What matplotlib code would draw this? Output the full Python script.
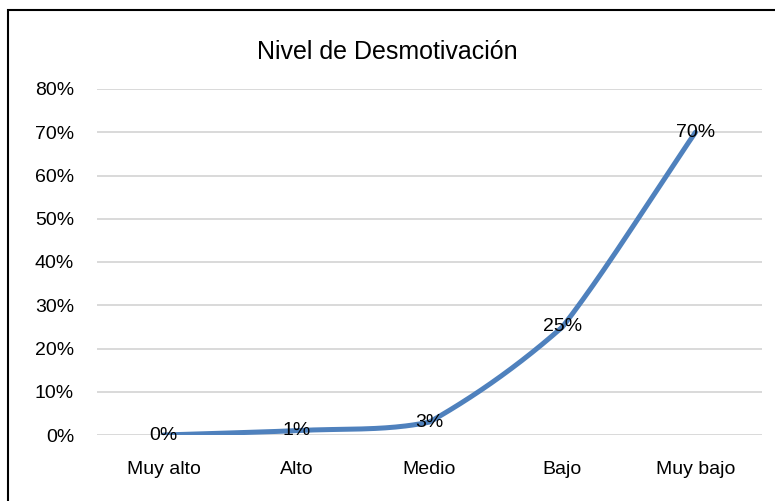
import numpy as np
import matplotlib.pyplot as plt
from matplotlib.patches import Rectangle

plt.rcParams['font.family'] = ['Liberation Sans', 'DejaVu Sans']

categorias = ['Muy alto', 'Alto', 'Medio', 'Bajo', 'Muy bajo']
porcentajes = [0.00, 0.01, 0.03, 0.25, 0.70]
etiquetas = ['0%', '1%', '3%', '25%', '70%']
ticks_y = [0.0, 0.1, 0.2, 0.3, 0.4, 0.5, 0.6, 0.7, 0.8]


def suavizar(y, lam=0.45, n=40):
    # linea suavizada: tramos cubicos de Hermite que pasan por cada punto
    y = np.asarray(y, float)
    cuerdas = np.diff(y)
    tang = np.empty_like(y)
    tang[0], tang[-1] = cuerdas[0], cuerdas[-1]
    tang[1:-1] = (y[2:] - y[:-2]) / 2
    t = np.linspace(0, 1, n)
    h00 = 2 * t ** 3 - 3 * t ** 2 + 1
    h10 = t ** 3 - 2 * t ** 2 + t
    h01 = -2 * t ** 3 + 3 * t ** 2
    h11 = t ** 3 - t ** 2
    xs, ys = [], []
    for i, c in enumerate(cuerdas):
        m0 = c + lam * (tang[i] - c)
        m1 = c + lam * (tang[i + 1] - c)
        xs.extend(i + t)
        ys.extend(h00 * y[i] + h10 * m0 + h01 * y[i + 1] + h11 * m1)
    return np.array(xs), np.array(ys)


fig = plt.figure(figsize=(7.75, 5.01), dpi=100)
ax = fig.add_axes([97 / 775, 1 - 435 / 501, 665 / 775, 346 / 501])

x = np.arange(len(categorias))
xs, ys = suavizar(porcentajes)
ax.plot(xs, ys, color='#4F81BD', linewidth=3.6, solid_capstyle='round', zorder=3)

for xi, yi, txt in zip(x, porcentajes, etiquetas):
    ax.text(xi, yi, txt, ha='center', va='center', fontsize=14, color='black', zorder=4)

ax.set_xlim(-0.5, len(categorias) - 0.5)
ax.set_ylim(0, 0.8)
ax.set_yticks(ticks_y)
ax.set_yticklabels([f'{int(round(v * 100))}%' for v in ticks_y])
ax.set_xticks(x)
ax.set_xticklabels(categorias)
ax.tick_params(axis='both', length=0, labelsize=14, colors='black')
ax.tick_params(axis='y', pad=16.5)
ax.tick_params(axis='x', pad=19)
ax.yaxis.grid(True, color='#D9D9D9', linewidth=1.4)
ax.set_axisbelow(True)
for s in ax.spines.values():
    s.set_visible(False)

fig.text(387 / 775, 1 - 52 / 501, 'Nivel de Desmotivación', ha='center', va='center', fontsize=18)

# marco del gráfico
fig.patches.append(Rectangle((8 / 775, -0.1), 1.2, 1 - 10 / 501 + 0.1, transform=fig.transFigure,
                             fill=False, edgecolor='black', linewidth=1.5))

fig.savefig('out.png', dpi=100)
